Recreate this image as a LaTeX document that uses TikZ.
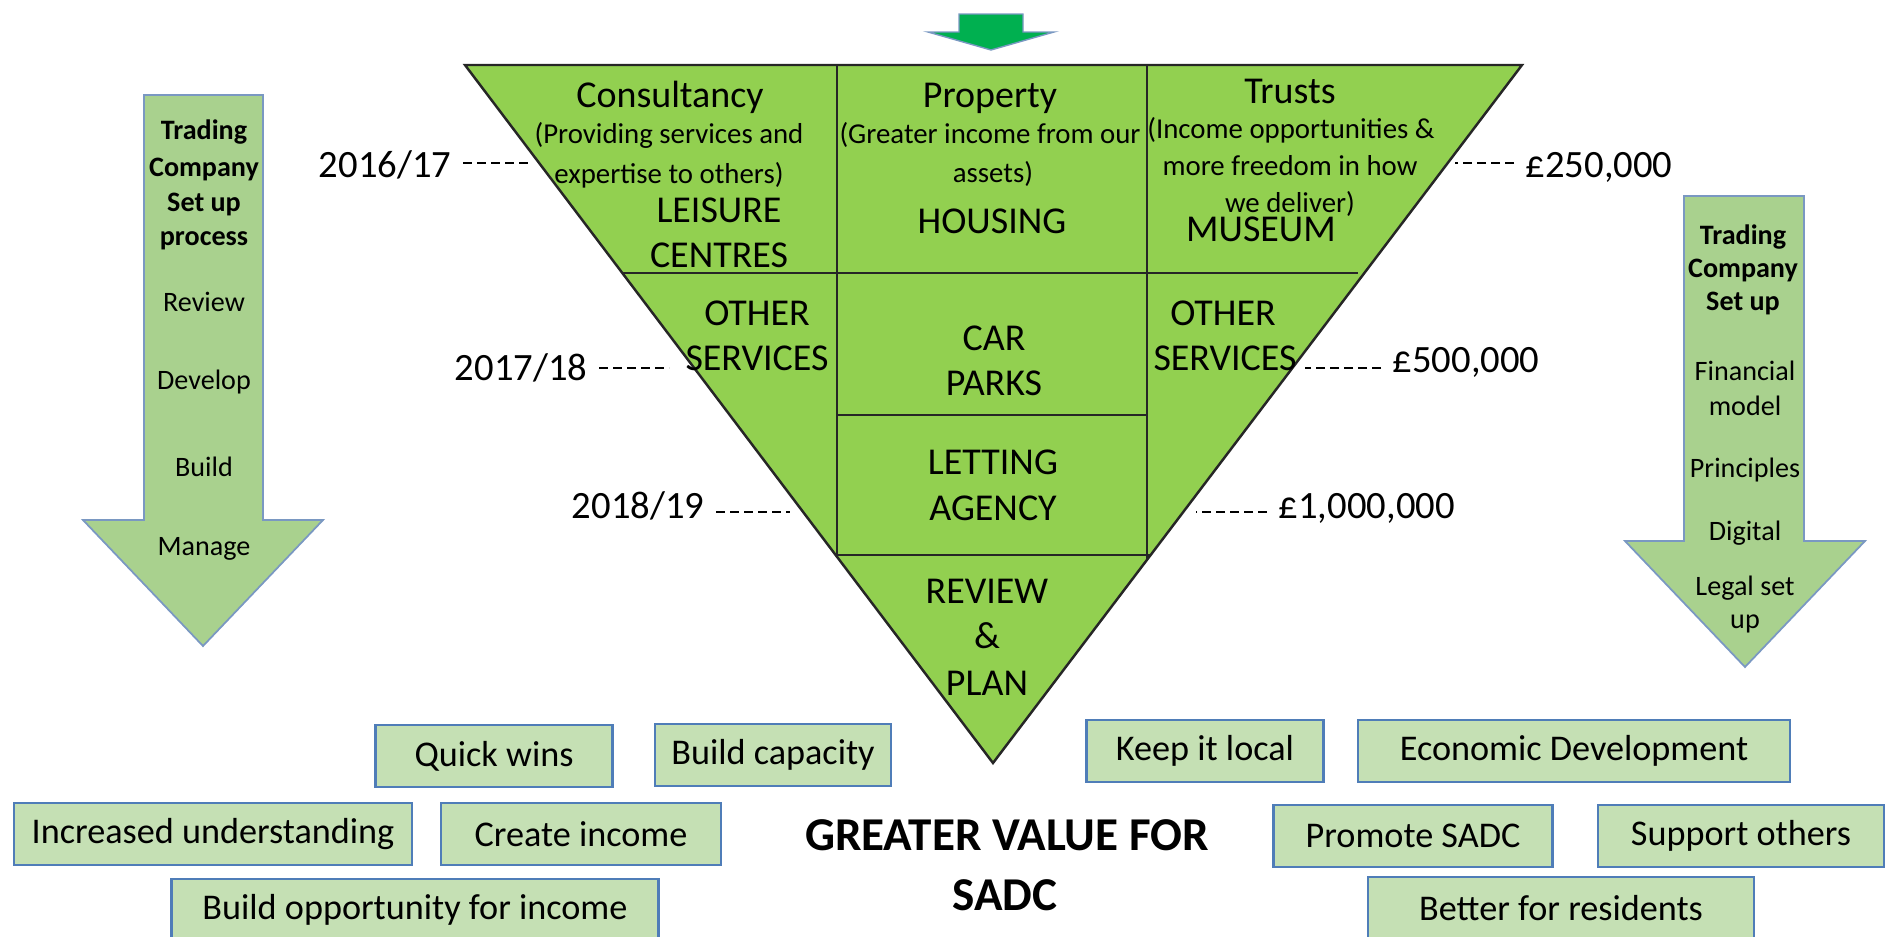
\documentclass[tikz,border=0pt]{standalone}
\usepackage{fontspec}
\setmainfont{Carlito}
\usepackage{tikz}
\usetikzlibrary{arrows.meta}
\usepackage{xcolor}
\definecolor{wedgegreen}{HTML}{92D050}
\definecolor{pointgreen}{HTML}{00B050}
\definecolor{stepgreen}{HTML}{A9D18E}
\definecolor{stepedge}{HTML}{7A98C2}
\definecolor{goalgreen}{HTML}{C5E0B4}
\definecolor{goaledge}{HTML}{4F7DB8}

\begin{document}
\begin{tikzpicture}[x=0.1mm, y=-0.1mm,
  seg/.style={anchor=base, inner sep=0pt, font=\fontsize{10.8}{12}\selectfont},
  segnote/.style={anchor=base, inner sep=0pt, font=\fontsize{8.2}{10}\selectfont},
  steptext/.style={anchor=base, inner sep=0pt, font=\fontsize{8}{10}\selectfont},
  stephead/.style={steptext, font=\fontsize{8}{10}\selectfont\bfseries},
  yeartext/.style={anchor=base, inner sep=0pt, font=\fontsize{11}{12}\selectfont},
  leader/.style={black, line width=0.4pt, dash pattern=on 0.9mm off 0.5mm, shorten <=1.1mm},
  goalbox/.style={draw=goaledge, fill=goalgreen, line width=0.7pt, inner sep=0pt,
    minimum height=6.2mm, font=\fontsize{10.3}{12}\selectfont},
  headline/.style={anchor=base, inner sep=0pt, font=\fontsize{13.4}{16}\selectfont\bfseries},
  stepshape/.style={draw=stepedge, fill=stepgreen, line width=0.5pt}]

% page frame, 1 unit = 1 px of the slide (y runs downwards)
\useasboundingbox (0,0) rectangle (1885,936);

%% ------------------------------------------------------------------
%% the inverted triangle: three service columns, narrowing to the plan
%% ------------------------------------------------------------------
% small pointer into the top of the triangle
\filldraw[fill=pointgreen, draw=stepedge, line width=0.4pt]
  (959,14) -- (1023,14) -- (1023,32) -- (1054,32) -- (991,50) -- (928,32) -- (959,32) -- cycle;

\filldraw[fill=wedgegreen, draw=black!85, line width=0.7pt]
  (465,65) -- (1522,65) -- (993,763) -- cycle;

% column dividers run down until they meet the sloping sides
\draw[black!85, line width=0.6pt] (837,65) -- (837,557);
\draw[black!85, line width=0.6pt] (1147,65) -- (1147,559);
% rows
\draw[black!85, line width=0.6pt] (622,273) -- (1358,273);
\draw[black!85, line width=0.6pt] (837,415) -- (1147,415);
\draw[black!85, line width=0.6pt] (836,555) -- (1150,555);

% column headings and the larger labels
\foreach \nm/\cx/\by/\lab in {consult/670/107/Consultancy, property/990/107/Property,
    trusts/1290/103/Trusts, leisure/719/222/LEISURE, centres/719/267/CENTRES,
    housing/992/233/HOUSING, museum/1261/241/MUSEUM,
    otherl/757/325/OTHER, servl/757/370/SERVICES,
    otherr/1223/325/OTHER, servr/1225/370/SERVICES,
    car/994/350/CAR, parks/994/395/PARKS,
    letting/993/474/LETTING, agency/993/520/AGENCY,
    plreview/987/603/REVIEW, pland/987/648/\&, plplan/987/695/PLAN}{
  \node[seg] (\nm) at (\cx,\by) {\lab};
}

% bracketed notes under each heading
\foreach \nm/\cx/\by/\lab in {consulta/669/143/(Providing services and,
    consultb/669/183/expertise to others),
    propa/990/143/(Greater income from our, propb/993/182/assets),
    trusta/1291/138/(Income opportunities \&, trustb/1290/175/more freedom in how,
    trustc/1290/212/we deliver)}{
  \node[segnote] (\nm) at (\cx,\by) {\lab};
}

%% ------------------------------------------------------------------
%% year markers on the left, income targets on the right
%% ------------------------------------------------------------------
\foreach \nm/\lx/\by/\lab/\ex/\ey in {yra/452/177/2016\slash 17/529/163,
    yrb/588/380/2017\slash 18/669/368, yrc/705/518/2018\slash 19/790/512}{
  \node[yeartext, anchor=base east] (\nm) at (\lx,\by) {\lab};
  \coordinate (\nm edge) at (\ex,\ey);
  \draw[leader] (\nm.east |- \nm edge) -- (\nm edge);
}

\foreach \nm/\lx/\by/\lab/\ex/\ey in {tga/1525/177/{£250,000}/1455/163,
    tgb/1392/372/{£500,000}/1305/368, tgc/1278/518/{£1,000,000}/1196/512}{
  \node[yeartext, anchor=base west] (\nm) at (\lx,\by) {\lab};
  \coordinate (\nm edge) at (\ex,\ey);
  \draw[leader] (\nm.west |- \nm edge) -- (\nm edge);
}

%% ------------------------------------------------------------------
%% the two set-up process arrows
%% ------------------------------------------------------------------
\filldraw[stepshape] (144,95) -- (263,95) -- (263,520) -- (323,520)
  -- (203,646) -- (83,520) -- (144,520) -- cycle;

\foreach \nm/\by/\lab in {lta/139/Trading, ltb/176/Company, ltc/211/Set up, ltd/245/process}{
  \node[stephead] (\nm) at (204,\by) {\lab};
}
\foreach \nm/\by/\lab in {lsa/311/Review, lsb/389/Develop, lsc/476/Build, lsd/555/Manage}{
  \node[steptext] (\nm) at (204,\by) {\lab};
}

\filldraw[stepshape] (1684,196) -- (1804,196) -- (1804,541) -- (1865,541)
  -- (1745,667) -- (1625,541) -- (1684,541) -- cycle;

\foreach \nm/\by/\lab in {rta/244/Trading, rtb/277/Company, rtc/310/Set up}{
  \node[stephead] (\nm) at (1743,\by) {\lab};
}
\foreach \nm/\by/\lab in {rsa/380/Financial, rsb/415/model, rsc/477/Principles,
    rsd/540/Digital, rse/595/Legal set, rsf/628/up}{
  \node[steptext] (\nm) at (1745,\by) {\lab};
}

%% ------------------------------------------------------------------
%% benefits along the bottom, either side of the headline
%% ------------------------------------------------------------------
\foreach \nm/\cx/\cy/\bw/\lab in {qwins/494/756/23.7/Quick wins,
    capacity/773/755/23.6/Build capacity,
    underst/213/834/39.8/Increased understanding,
    income/581/834/28.0/Create income,
    opport/415/910/48.7/Build opportunity for income,
    local/1205/751/23.7/Keep it local,
    econ/1574/751/43.2/Economic Development,
    promote/1413/836/27.9/Promote SADC,
    support/1741/836/28.6/Support others,
    better/1561/908/38.6/Better for residents}{
  \node[goalbox, minimum width=\bw mm] (\nm) at (\cx,\cy) {\lab};
}

\node[headline] (value) at (1007,850) {GREATER VALUE FOR};
\node[headline] (sadc) at (1005,910) {SADC};

\end{tikzpicture}
\end{document}
